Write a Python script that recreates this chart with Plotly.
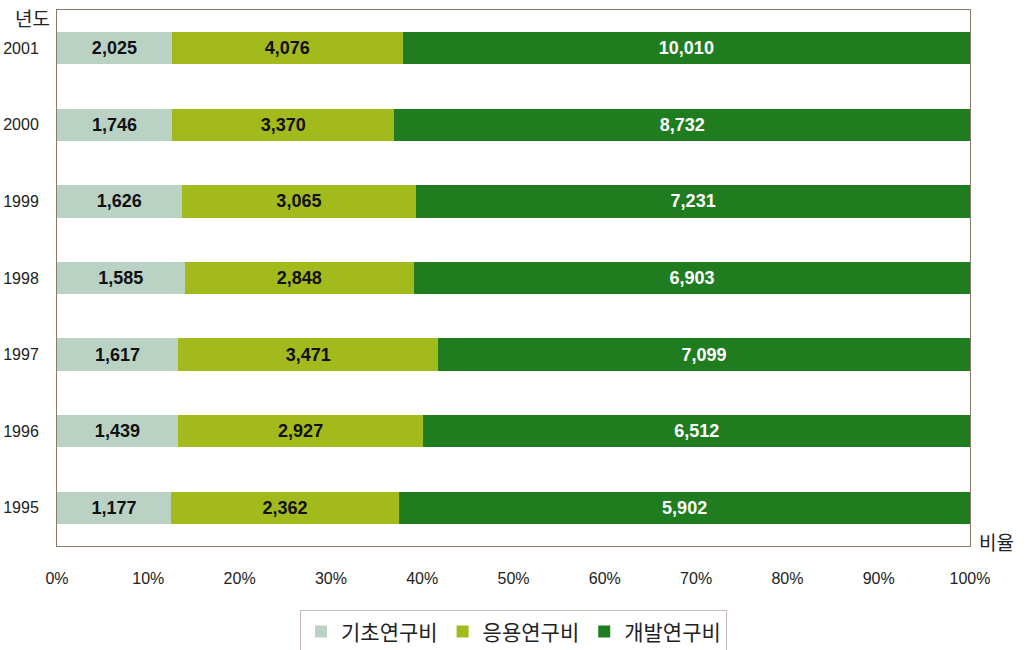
import plotly.graph_objects as go

years = ["1995", "1996", "1997", "1998", "1999", "2000", "2001"]
basic = [1177, 1439, 1617, 1585, 1626, 1746, 2025]
applied = [2362, 2927, 3471, 2848, 3065, 3370, 4076]
development = [5902, 6512, 7099, 6903, 7231, 8732, 10010]
series_names = ["기초연구비", "응용연구비", "개발연구비"]
tick_vals = [0, 10, 20, 30, 40, 50, 60, 70, 80, 90, 100]
tick_text = [f"{v}%" for v in tick_vals]

colors = ["#b9d2c4", "#a3ba1c", "#1f7d1f"]
text_colors = ["#111111", "#111111", "#ffffff"]

fig = go.Figure()
for name, vals, c, tc in zip(series_names, [basic, applied, development], colors, text_colors):
    fig.add_trace(go.Bar(
        y=years, x=vals, name=name, orientation="h",
        marker=dict(color=c, line=dict(width=0)),
        text=[f"{v:,}" for v in vals],
        textposition="inside", insidetextanchor="middle",
        textfont=dict(family="Liberation Sans, Arial, sans-serif", size=18, color=tc, weight="bold"),
        width=0.42,
    ))

fig.update_layout(
    barmode="stack", barnorm="percent",
    width=1027, height=650,
    margin=dict(l=57, r=57, t=10, b=104, autoexpand=False),
    paper_bgcolor="white", plot_bgcolor="white",
    font=dict(family="Liberation Sans, Arial, sans-serif", size=16, color="#222222"),
    xaxis=dict(range=[0, 100], tickvals=tick_vals, ticktext=tick_text, showgrid=False,
               zeroline=False, showline=True, linecolor="#8a7a6a", linewidth=1, mirror=True,
               ticks="", ticklabelstandoff=18, tickfont=dict(size=16), automargin=False),
    yaxis=dict(range=[-0.5, 6.5], showgrid=False, zeroline=False, showline=True,
               linecolor="#8a7a6a", linewidth=1, mirror=True, ticks="",
               ticklabelstandoff=14, tickfont=dict(size=16), automargin=False),
    legend=dict(orientation="h", x=0.5, xanchor="center", yref="paper", y=-0.16,
                yanchor="middle", bordercolor="#c8b8c8", borderwidth=1,
                font=dict(family="Noto Sans CJK KR", size=21, color="#222222"),
                itemwidth=30, traceorder="normal"),
    showlegend=True,
)

fig.add_annotation(text="년도", xref="paper", yref="paper", x=-0.005, y=1.015, xanchor="right",
                   yanchor="top", showarrow=False,
                   font=dict(family="Noto Sans CJK KR", size=19, color="#222222"))
fig.add_annotation(text="비율", xref="paper", yref="paper", x=1.008, y=-0.02, xanchor="left",
                   yanchor="bottom", showarrow=False,
                   font=dict(family="Noto Sans CJK KR", size=19, color="#222222"))

fig.write_html("out.html", config={"displayModeBar": False},
               post_script="document.body.style.margin='0';")
